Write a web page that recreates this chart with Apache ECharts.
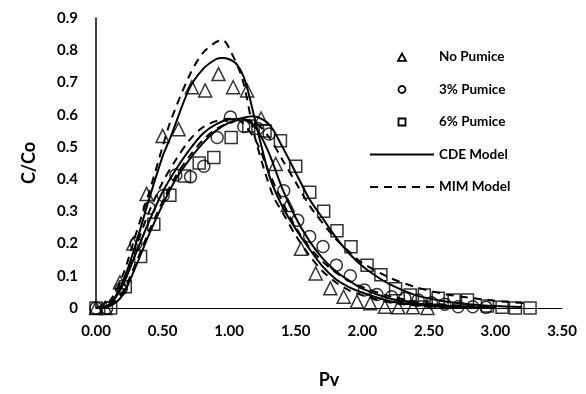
<!DOCTYPE html>
<html>
<head>
<meta charset="utf-8">
<script src="https://cdn.jsdelivr.net/npm/echarts@6/dist/echarts.min.js"></script>
<style>
  html, body { margin: 0; padding: 0; background: #fff; }
  #chart { width: 586px; height: 394px; }
</style>
</head>
<body>
<div id="chart"></div>
<script>
// measured breakthrough data (Pv, C/Co)
const noPumice = [
  [0.0, 0.0], [0.07, 0.0], [0.18, 0.08], [0.28, 0.2], [0.38, 0.354], [0.5, 0.534],
  [0.62, 0.555], [0.72, 0.685], [0.82, 0.675], [0.92, 0.726], [1.03, 0.685],
  [1.135, 0.675], [1.24, 0.588], [1.35, 0.447], [1.44, 0.32], [1.54, 0.184],
  [1.65, 0.107], [1.76, 0.061], [1.86, 0.035], [1.96, 0.02], [2.06, 0.015],
  [2.17, 0.004], [2.27, 0.002], [2.38, 0.002], [2.49, 0.0]
];
const pumice3 = [
  [0.0, 0.0], [0.08, 0.0], [0.19, 0.06], [0.3, 0.2], [0.4, 0.31], [0.505, 0.349],
  [0.6, 0.413], [0.71, 0.407], [0.81, 0.44], [0.91, 0.529], [1.01, 0.593],
  [1.11, 0.563], [1.215, 0.557], [1.3, 0.54], [1.41, 0.364], [1.515, 0.272],
  [1.605, 0.222], [1.705, 0.191], [1.805, 0.133], [1.91, 0.1], [2.016, 0.056],
  [2.11, 0.042], [2.22, 0.035], [2.32, 0.03], [2.42, 0.025], [2.52, 0.016],
  [2.62, 0.012], [2.72, 0.004], [2.83, 0.004], [2.93, 0.002]
];
const pumice6 = [
  [0.0, 0.0], [0.11, 0.0], [0.22, 0.066], [0.335, 0.16], [0.434, 0.26], [0.555, 0.35],
  [0.665, 0.41], [0.775, 0.45], [0.885, 0.467], [1.015, 0.529], [1.147, 0.565],
  [1.27, 0.549], [1.385, 0.519], [1.5, 0.44], [1.605, 0.359], [1.71, 0.3],
  [1.81, 0.24], [1.915, 0.19], [2.036, 0.133], [2.14, 0.103], [2.25, 0.06],
  [2.36, 0.04], [2.466, 0.04], [2.57, 0.03], [2.69, 0.025], [2.79, 0.025],
  [2.94, 0.006], [3.05, 0.002], [3.15, 0.0], [3.26, 0.0]
];

// fitted model curves
const cdeNoPumice = [
  [0.0, 0.0], [0.1, 0.01], [0.2, 0.08], [0.3, 0.2], [0.4, 0.34], [0.5, 0.47],
  [0.56, 0.53], [0.7, 0.68], [0.8, 0.74], [0.9, 0.772], [0.95, 0.776], [1.0, 0.772],
  [1.06, 0.755], [1.12, 0.705], [1.185, 0.6], [1.25, 0.49], [1.31, 0.4], [1.4, 0.315],
  [1.5, 0.245], [1.6, 0.185], [1.7, 0.13], [1.8, 0.09], [1.9, 0.065], [2.0, 0.048],
  [2.2, 0.022], [2.4, 0.01], [2.6, 0.004], [3.0, 0.0]
];
const mimNoPumice = [
  [0.0, 0.0], [0.1, 0.02], [0.2, 0.1], [0.3, 0.23], [0.4, 0.36], [0.5, 0.5],
  [0.56, 0.58], [0.7, 0.72], [0.8, 0.79], [0.9, 0.825], [0.95, 0.832], [1.02, 0.79],
  [1.1, 0.71], [1.17, 0.575], [1.2, 0.52], [1.27, 0.42], [1.335, 0.344], [1.41, 0.29],
  [1.5, 0.225], [1.6, 0.165], [1.7, 0.115], [1.8, 0.08], [1.9, 0.055], [2.0, 0.04],
  [2.2, 0.018], [2.4, 0.008], [2.6, 0.003], [3.0, 0.0]
];
const cdePumice3 = [
  [0.0, 0.0], [0.1, 0.01], [0.2, 0.07], [0.3, 0.17], [0.4, 0.27], [0.5, 0.36],
  [0.6, 0.43], [0.7, 0.49], [0.8, 0.54], [0.9, 0.57], [1.0, 0.585], [1.1, 0.587],
  [1.2, 0.56], [1.3, 0.48], [1.4, 0.37], [1.5, 0.28], [1.6, 0.21], [1.7, 0.155],
  [1.8, 0.115], [1.9, 0.085], [2.0, 0.06], [2.2, 0.03], [2.4, 0.015], [2.6, 0.007],
  [2.8, 0.003], [3.0, 0.001]
];
const mimPumice3 = [
  [0.0, 0.0], [0.1, 0.012], [0.2, 0.08], [0.3, 0.19], [0.4, 0.3], [0.5, 0.39],
  [0.6, 0.46], [0.7, 0.52], [0.8, 0.56], [0.9, 0.58], [1.0, 0.587], [1.05, 0.586],
  [1.1, 0.575], [1.2, 0.52], [1.3, 0.42], [1.4, 0.33], [1.5, 0.25], [1.6, 0.19],
  [1.7, 0.145], [1.8, 0.11], [1.9, 0.085], [2.0, 0.065], [2.2, 0.037], [2.4, 0.02],
  [2.6, 0.011], [2.8, 0.006], [3.0, 0.003]
];
const cdePumice6 = [
  [0.0, 0.0], [0.1, 0.005], [0.2, 0.04], [0.3, 0.13], [0.4, 0.23], [0.5, 0.32],
  [0.6, 0.4], [0.7, 0.46], [0.8, 0.51], [0.9, 0.55], [1.0, 0.575], [1.1, 0.59],
  [1.18, 0.595], [1.3, 0.57], [1.4, 0.5], [1.5, 0.42], [1.6, 0.34], [1.7, 0.28],
  [1.8, 0.22], [1.9, 0.17], [2.0, 0.13], [2.1, 0.1], [2.2, 0.075], [2.4, 0.04],
  [2.6, 0.022], [2.8, 0.012], [3.0, 0.006], [3.2, 0.003]
];
const mimPumice6 = [
  [0.0, 0.0], [0.1, 0.008], [0.2, 0.05], [0.3, 0.14], [0.4, 0.24], [0.5, 0.33],
  [0.6, 0.41], [0.7, 0.47], [0.8, 0.52], [0.9, 0.555], [1.0, 0.575], [1.1, 0.585],
  [1.2, 0.575], [1.3, 0.53], [1.4, 0.46], [1.5, 0.39], [1.6, 0.32], [1.7, 0.265],
  [1.8, 0.215], [1.9, 0.175], [2.0, 0.14], [2.2, 0.095], [2.4, 0.065], [2.6, 0.045],
  [2.8, 0.032], [3.0, 0.022], [3.25, 0.014]
];

const legendNames = ["No Pumice", "3% Pumice", "6% Pumice", "CDE Model", "MIM Model"];

// legend marker icons: the leading moves pin the box to 64x9 so the marker
// stays small and centred over the line icons
const BOX = "path://M0 0M64 9";
const markerIcons = [
  BOX + "M28 8.3L32 1L36 8.3Z",
  BOX + "M35.5 4.5A3.5 3.5 0 1 1 28.5 4.5A3.5 3.5 0 1 1 35.5 4.5Z",
  BOX + "M28.5 1L35.5 1L35.5 8L28.5 8Z"
];

const FONT = "Lato, 'Open Sans', sans-serif";
const chart = echarts.init(document.getElementById("chart"), null, { renderer: "canvas" });

const markerStyle = { color: "rgba(0,0,0,0)", borderColor: "#000", borderWidth: 1.5 };

function scatter(name, data, symbol, size) {
  return {
    name, type: "scatter", data, symbol, symbolSize: size,
    itemStyle: markerStyle, z: 3, silent: true
  };
}
function curve(name, data, dashed) {
  return {
    name, type: "line", data, smooth: 0.3, symbol: "none", showSymbol: false,
    lineStyle: { color: "#000", width: 2, type: dashed ? [8, 6] : "solid" },
    // opacity 0 hides the dot that the legend puts on line icons
    itemStyle: { color: "#000", opacity: 0 }, z: 2, silent: true
  };
}

chart.setOption({
  animation: false,
  backgroundColor: "#fff",
  grid: { left: 96, right: 24, top: 18, bottom: 86 },
  legend: {
    orient: "vertical",
    left: 364,
    top: 45,
    itemWidth: 64,
    itemHeight: 9,
    itemGap: 18.5,
    data: legendNames.map((n, i) => i < 3
      ? { name: n, icon: markerIcons[i], itemStyle: { opacity: 1, borderWidth: 1.8 } }
      : { name: n }),
    textStyle: { color: "#000", fontSize: 13.5, fontWeight: "bold", fontFamily: FONT },
    selectedMode: false
  },
  xAxis: {
    type: "value",
    min: 0, max: 3.5, interval: 0.5,
    name: "Pv", nameLocation: "middle", nameGap: 63,
    nameTextStyle: { color: "#000", fontSize: 18, fontWeight: "bold", fontFamily: FONT },
    axisLine: { show: true, lineStyle: { color: "#000", width: 1 } },
    axisTick: { show: false },
    splitLine: { show: false },
    axisLabel: {
      color: "#000", fontSize: 15, fontWeight: "bold", fontFamily: FONT, margin: 16,
      formatter: (v) => v.toFixed(2)
    }
  },
  yAxis: {
    type: "value",
    min: 0, max: 0.9, interval: 0.1,
    name: "C/Co", nameLocation: "middle", nameGap: 58,
    nameTextStyle: { color: "#000", fontSize: 18, fontWeight: "bold", fontFamily: FONT },
    axisLine: { show: true, lineStyle: { color: "#000", width: 1.5 } },
    axisTick: { show: false },
    splitLine: { show: false },
    axisLabel: {
      color: "#000", fontSize: 15, fontWeight: "bold", fontFamily: FONT, margin: 18,
      formatter: (v) => v === 0 ? "0" : v.toFixed(1)
    }
  },
  series: [
    curve("CDE Model", cdeNoPumice, false),
    curve("CDE Model", cdePumice3, false),
    curve("CDE Model", cdePumice6, false),
    curve("MIM Model", mimNoPumice, true),
    curve("MIM Model", mimPumice3, true),
    curve("MIM Model", mimPumice6, true),
    scatter("No Pumice", noPumice, "triangle", 13),
    scatter("3% Pumice", pumice3, "circle", 12),
    scatter("6% Pumice", pumice6, "rect", 12)
  ]
});
</script>
</body>
</html>
